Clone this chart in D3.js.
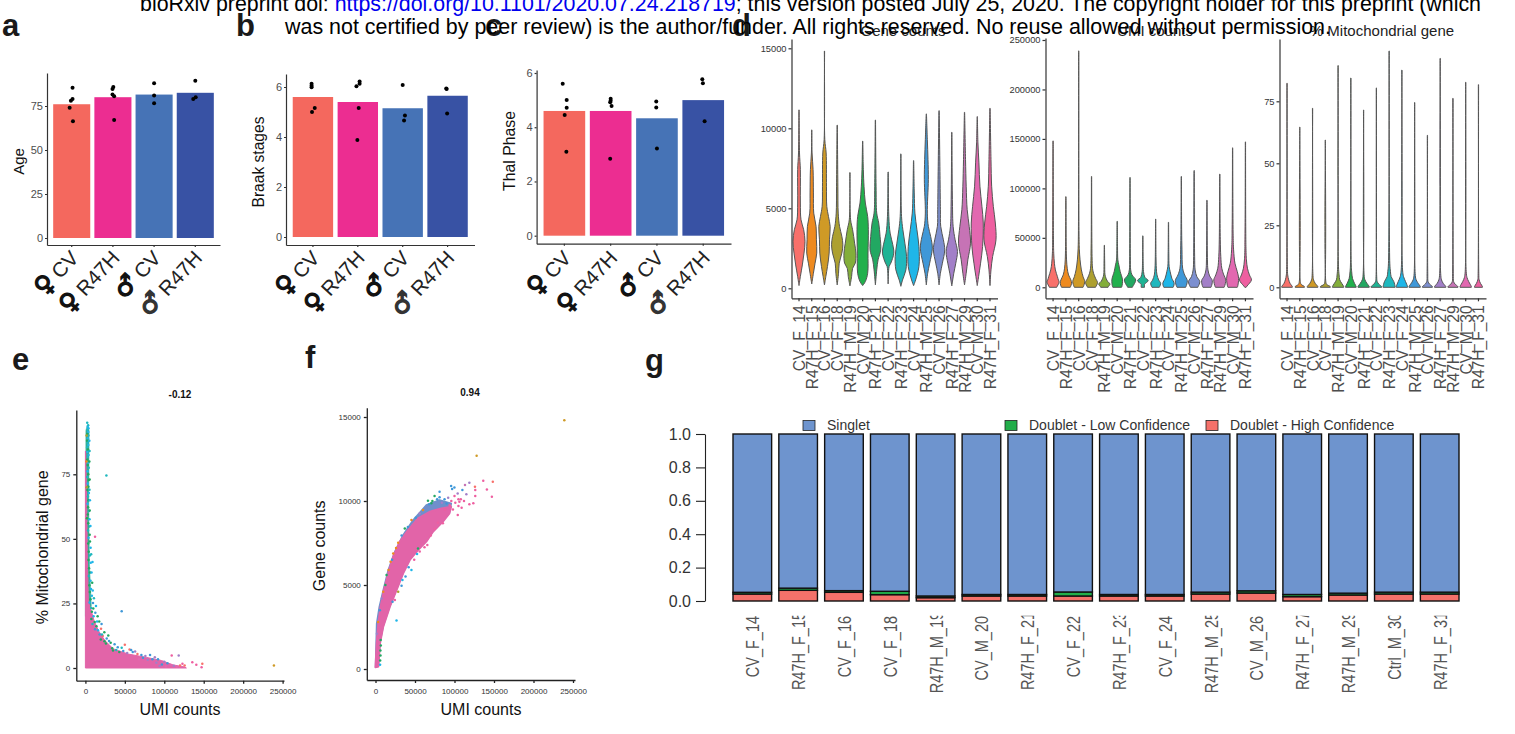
<!DOCTYPE html>
<html><head><meta charset="utf-8">
<script src="https://cdn.jsdelivr.net/npm/d3@7/dist/d3.min.js"></script>
<style>html,body{margin:0;padding:0;background:#fff;overflow:hidden}svg{display:block;font-family:"Liberation Sans",Arial,sans-serif}</style>
</head><body><div id="chart"></div>
<script>
// ---------- data ----------
const headerLine1a = "bioRxiv preprint doi: ";
const headerLink = "https://doi.org/10.1101/2020.07.24.218719";
const headerLine1b = "; this version posted July 25, 2020. The copyright holder for this preprint (which";
const headerLine2 = "was not certified by peer review) is the author/funder. All rights reserved. No reuse allowed without permission.";

const groups = ["F_CV","F_R47H","M_CV","M_R47H"];
const groupSymbols = ["\u2640","\u2640","\u2642","\u2642"];
const groupNames = ["CV","R47H","CV","R47H"];
const groupColors = ["#F4685E","#EC2D91","#4673B6","#3852A4"];

const ageMeans = [76,80,81.5,82.5];
const agePoints = [[85.4,79,78,74,66.3],[85.8,84.7,81.6,80.5,67],[87.9,81,76.5],[89.4,80,79]];
const ageJitter = [[.02,.02,-.02,-.05,.03],[.01,-.01,-.01,.03,.03],[0,0,0],[0,.01,-.05]];
const braakMeans = [5.6,5.4,5.15,5.65];
const braakPoints = [[6.13,6.05,5.99,5.16,5.0],[6.22,6.13,6.03,5.16,3.88],[6.08,4.86,4.66],[5.94,5.92,4.94]];
const braakJitter = [[-.03,-.03,-.03,.04,-.02],[.04,.04,-.03,.02,-.01],[0,.05,.03],[-.03,-.02,-.01]];
const thalMeans = [4.6,4.6,4.33,5.0];
const thalPoints = [[5.6,5.0,4.72,4.45,3.1],[5.05,4.98,4.92,4.78,2.84],[4.95,4.73,3.22],[5.77,5.62,4.22]];
const thalJitter = [[-.036,.05,.05,.007,.043],[0,0,-.01,.02,-.01],[-.015,-.015,0],[-.02,-.007,.03]];

const ageTicks = [0,25,50,75];
const braakTicks = [0,2,4,6];
const thalTicks = [0,2,4,6];

const samples = ["CV_F_14","R47H_F_15","CV_F_16","CV_F_18","R47H_M_19","CV_M_20","R47H_F_21","CV_F_22","R47H_F_23","CV_F_24","R47H_M_25","CV_M_26","R47H_F_27","R47H_M_29","CV_M_30","R47H_F_31"];
const gSamples = ["CV_F_14","R47H_F_15","CV_F_16","CV_F_18","R47H_M_19","CV_M_20","R47H_F_21","CV_F_22","R47H_F_23","CV_F_24","R47H_M_25","CV_M_26","R47H_F_27","R47H_M_29","Ctrl_M_30","R47H_F_31"];
const sampleColors = ["#F8706A","#EE8A1F","#CF9A26","#ADA030","#83AE3A","#21B04C","#22A862","#1FB394","#1FB8BE","#1FB6E8","#3F98D8","#7C8FD0","#A27FC8","#C673B5","#E268B0","#EE5FA0"];

// violin outlines: [value, relative half width]
const geneViolins = [
 [[170,0],[730,4],[1460,10],[2200,15],[2930,18],[3660,14],[4280,6],[5330,4],[7420,4],[8460,1.5],[11150,.4]],
 [[270,0],[940,5],[1570,10],[2200,15],[3030,14],[3870,13],[4700,6],[5960,5],[7420,4],[8460,1],[9900,.4]],
 [[210,0],[730,4],[1360,9],[2200,14],[3030,15],[3870,17],[4490,12],[5120,7],[6380,6],[8460,5],[9300,1],[14830,.4]],
 [[210,0],[940,4],[1570,6],[2200,14],[2720,17],[3240,14],[3870,7],[4700,3],[6380,2],[10200,.4]],
 [[150,0],[730,5],[1250,8],[1570,16],[2200,18],[2820,14],[3660,8],[4280,2],[7230,.4]],
 [[170,0],[420,8],[940,15],[2200,16],[3660,17],[4490,15],[5330,8],[6380,4],[7420,2],[9200,.4]],
 [[210,0],[1150,4],[1780,8],[2400,16],[3240,14],[4080,10],[4700,4],[6380,2],[10520,.4]],
 [[270,0],[1360,3],[1570,8],[2200,17],[2720,14],[3450,6],[4490,2],[7270,.4]],
 [[125,0],[520,5],[1150,15],[1990,17],[2820,12],[3660,6],[4490,2],[8400,.4]],
 [[170,0],[520,6],[1360,16],[2610,16],[3660,10],[4700,4],[5960,2],[7980,.4]],
 [[210,0],[940,4],[1570,10],[2510,18],[3240,13],[3870,6],[4700,3],[6790,6],[8050,5],[9300,3],[10900,.4]],
 [[210,0],[940,4],[1570,10],[2400,17],[3030,13],[3870,5],[4910,4],[6790,3],[11100,.4]],
 [[150,0],[940,6],[1570,12],[2300,17],[3030,10],[3870,4],[5330,2],[9750,.4]],
 [[210,0],[940,5],[1780,10],[2820,18],[3870,14],[4910,8],[6380,5],[8050,3],[11000,.4]],
 [[170,0],[730,4],[1570,10],[2610,16],[4080,18],[5120,14],[6380,8],[7840,5],[9090,2],[10730,.4]],
 [[170,0],[1150,3],[1990,8],[3030,18],[4080,16],[5120,10],[6380,5],[8050,3],[11250,.4]]
];
const umiViolins = [
 [[0,11],[680,12],[4060,17],[5750,18],[7440,16],[10820,13],[17580,7],[24340,4],[34480,2],[48000,1.2],[148000,.4]],
 [[0,13],[680,14],[4060,17],[7440,15],[12510,8],[19270,4],[27720,2],[41240,1],[91600,.4]],
 [[0,13],[680,14],[5750,18],[10820,13],[17580,8],[27720,4],[37860,2],[51000,1],[239000,.4]],
 [[0,12],[680,13],[4730,18],[9130,12],[14200,6],[19270,3],[31100,1.5],[112000,.4]],
 [[0,11],[680,12],[3380,17],[5750,10],[9130,5],[12510,2],[24340,1],[42500,.4]],
 [[0,13],[680,14],[7440,16],[15890,9],[22650,5],[27720,2],[41240,1],[66700,.4]],
 [[0,7],[680,8],[7440,17],[12510,6],[17580,2],[31100,1],[111000,.4]],
 [[0,5],[1350,5],[3040,5],[6760,16],[10140,6],[15890,2],[24340,1],[52000,.4]],
 [[0,11],[680,12],[4060,15],[7440,9],[12510,4],[19270,2],[31100,1],[69000,.4]],
 [[0,14],[680,15],[4060,17],[9130,10],[15890,5],[20960,2],[34480,1],[65700,.4]],
 [[0,13],[680,14],[6760,18],[12510,10],[19270,4],[37860,2],[58140,1],[112000,.4]],
 [[0,11],[680,12],[5750,17],[10820,8],[17580,3],[31100,1.5],[118000,.4]],
 [[0,12],[680,13],[6760,16],[11490,8],[17580,3],[27720,1.5],[88000,.4]],
 [[0,13],[680,14],[7440,18],[12510,12],[19270,6],[31100,3],[48000,1.5],[114500,.4]],
 [[0,14],[680,15],[9130,18],[15890,14],[24340,7],[37860,3],[54760,1.5],[141000,.4]],
 [[0,2],[1350,5],[7440,18],[12510,12],[19270,6],[27720,3],[41240,1.5],[147000,.4]]
];
const pctViolins = [
 [[0,16],[.27,16],[1.6,9],[3,5],[5,2],[8.3,1],[82.3,.4]],
 [[0,14],[.27,14],[1.2,4],[2.3,1.5],[64.6,.4]],
 [[0,16],[.27,16],[1.6,8],[3,3],[5.6,1],[72.2,.4]],
 [[0,15],[.27,15],[1.2,4],[2.3,1.5],[59.4,.4]],
 [[0,17],[.27,17],[1.6,11],[3,5],[5,3],[8.3,1.2],[89.4,.4]],
 [[0,16],[.27,16],[1.6,11],[3.6,5],[6.3,2.5],[9,1.2],[84.4,.4]],
 [[0,17],[.27,17],[1.6,10],[3,4],[5,1.5],[71.5,.4]],
 [[0,16],[.27,16],[1.35,7],[2.3,2.5],[4.3,1],[80.4,.4]],
 [[0,18],[.27,18],[2.3,14],[4.3,6],[6.3,4],[9.7,2],[95.3,.4]],
 [[0,17],[.27,17],[2.3,11],[4.3,5],[7,2],[87.6,.4]],
 [[0,17],[.27,17],[1.9,9],[3.2,4],[5.6,1.5],[74.5,.4]],
 [[0,15],[.27,15],[1.35,6],[2.3,2],[5.6,1],[61.3,.4]],
 [[0,17],[.27,17],[1.6,9],[3,4],[5.6,1.5],[92.3,.4]],
 [[0,15],[.27,15],[1.35,6],[2.3,2],[5.6,1],[76.2,.4]],
 [[0,17],[.27,17],[2.3,9],[3.9,4],[6.3,1.5],[82.7,.4]],
 [[0,12],[.27,12],[1.6,6],[3,2],[5.6,1],[81.7,.4]]
];
const geneTicks = [0,5000,10000,15000];
const umiTicks = [0,50000,100000,150000,200000,250000];
const pctTicks = [0,25,50,75];

// e: cloud outlines [umi, pct]
const mitoCloudBack = [[600,92],[2500,94],[4700,92],[4500,75],[4300,62],[4700,50],[5200,40],[6500,31],[7500,24],[3000,20],[0,20]];
const mitoCloud = [[0,84],[400,83.9],[1700,61.8],[2500,42.4],[3800,25.5],[6700,22.9],[10900,18.4],[16400,14.5],[24800,10.6],[35400,7.4],[54300,5.4],[77400,4.1],[96400,2.9],[111100,1.2],[125800,.4],[128000,0],[0,0]];
// e: visible single cells [umi, pct, sample index]
const mitoCells = [
 [2300,95,8],[3500,94,8],[2900,93.4,9],[3900,92.8,9],[2500,92.2,8],[3700,91.4,9],[2400,90.6,6],[3900,90,8],[3100,89,9],[2100,88,6],[2900,87.2,8],[3700,86.3,9],[2300,85.5,8],[3300,84.6,6],[2500,83.6,9],[4000,82.5,9],[3100,81.7,8],[2200,80.6,6],[3700,79.5,9],[2900,78.6,6],[4300,77.5,8],[2700,76.2,9],[3600,75,6],[2400,74,8],[4200,72.8,6],[3000,71.4,9],[3800,70.2,6],[2600,68.9,6],[4400,67.8,9],[3200,66.4,8],[4000,65,6],[2800,63.6,9],[3400,62.2,6],[4500,60.8,8],[3000,59.4,6],[5200,57.6,9],[3600,56,6],[4800,54.8,7],[3300,53.2,8],[5400,51.6,6],[4000,50.4,9],[3600,48.2,6],[6600,46.6,9],[4200,45,6],[5600,43.6,8],[3900,41.8,6],[6800,40.8,9],[9000,41,9],[4600,38.6,6],[5800,37,6],[4400,35.6,8],[6500,33.8,9],[5000,32,6],[7100,30.6,9],[5600,29.4,6],[8200,28,9],[6400,26.6,6],[5200,25.4,9],[9600,25.2,10],[7400,23.2,8],[8200,21.8,6],[12600,21.4,10],[10400,20,9],[7600,19,6],[11800,17.8,6],[9000,17,8],[14000,16.2,6],[12200,15,10],[16000,14.6,9],[19800,15.2,0],[18000,13,10],[24000,13.8,6],[22000,12.4,0],[27000,11.4,10],[29000,12.6,6],[24200,10.4,6],[32000,9.8,6],[37000,9.2,10],[34000,7.6,6],[41000,8,10],[46000,7.8,8],[50000,9,0],[56000,7.2,0],[60000,6.2,10],[66000,5.4,0],[71000,5,10],[76000,4.6,12],[82000,5,10],[88000,4.2,12],[92000,3.4,10],[100000,2.4,12],[104000,1.8,10],[108000,1.2,14],
 [1500,90,3],[5000,88,9],[5300,84,8],[1300,80,1],[5000,80,6],[5400,73,6],[1600,70,3],[5200,69,8],[5700,65,9],[5500,61,6],[2000,58,5],[6400,55,9],[5800,49,6],[7300,44,8],[7800,37,9],[8600,33,6],[9300,30,9],[10800,27,8],[10000,23,6],[13400,24,9],[15500,20,6],[17500,18,6],[14800,18,9],[20500,17,10],[19500,11,6],[21000,13,8],[26000,9.5,6],[30000,10.5,10],[35000,6.8,6],[39000,7,8],[43000,6.2,6],[48000,6.6,10],[53000,5.8,12],[58000,7,10],[63000,6.4,12],[68000,3.4,14],[73000,4,10],[79000,3.2,12],[85000,3.4,10],[90000,2,12],[94000,.8,12],[97000,1.4,10],[102000,.6,14],[112000,.9,12],[116000,.5,14],[120000,1,0],[123000,1.6,15],
 [26600,74.5,8],[46000,22,10],[12200,50.8,15],[239000,1,2],[135500,2.2,15],[140600,1.3,15],[147300,.3,15],[148200,1.6,0],[125800,1,0],[109400,4.8,15],[118300,4.8,12]
];
// f: cloud outlines [umi, genes]
const geneCloudBack = [[0,100],[1400,2700],[4800,3710],[9800,4700],[16100,5890],[24500,6990],[35000,7980],[47600,8870],[64300,9760],[81100,10060],[96000,9860],[93600,9300],[85300,8800],[72700,8200],[64300,7620],[53800,7120],[43400,6530],[35000,5730],[26600,4740],[18200,3750],[9800,2560],[5700,1570],[3600,160]];
const geneCloudFront = [[0,100],[1470,1530],[3560,2720],[6500,3710],[10700,4700],[16100,5690],[22400,6690],[30800,7580],[41300,8270],[53800,8970],[68500,9360],[83200,9560],[95700,9660],[93600,9270],[85300,8770],[72700,8170],[64300,7580],[53800,7080],[43400,6490],[35000,5690],[26600,4700],[18200,3710],[9800,2520],[5700,1530],[3600,140]];
const geneCells = [
 [239000,14800,2],[128000,12700,2],[136400,11210,15],[148500,11150,0],[141000,10690,15],[147300,10260,15],[125900,10850,0],[126300,10650,15],[126300,10300,15],[123800,9860,15],[118800,9800,15],[113300,10950,13],[118800,11090,12],[95700,10890,10],[99900,10810,10],[97000,10710,10],[81100,10550,10],[74800,10300,6],[81100,10220,10],[87400,10100,10],[66400,10020,6],[70600,9860,6],[104000,10450,12],[108000,10100,15],[112000,10000,15],[101000,9900,15],[92000,10200,12],[96000,10000,15],[100000,10300,15],[105000,9700,15],[60100,9460,1],[45500,8870,1],[37100,8370,6],[28700,7520,1],[22400,6880,1],[19100,6390,1],[14000,5590,6],[9800,4600,1],[53800,7180,6],[52600,6840,9],[45500,5890,9],[34100,5300,9],[28700,4600,3],[24500,4100,15],[26600,2880,9],[21600,4010,10],[106200,9960,15],[104100,9170,15],[85300,8670,15],[65600,7380,15],[6500,1730,6],[6700,1400,6],[6200,1100,6],[6300,800,6],[5900,500,6],[5800,250,9],
 [68000,9800,10],[72000,10000,6],[78000,10100,10],[84000,9900,12],[90000,9850,10],[94000,9750,15],[98000,9500,15],[88000,9500,15],[79000,8700,15],[75000,8350,15],[70000,7950,15],[62000,7250,15],[56000,7000,15],[49000,6500,15],[42000,6050,10],[38000,5500,10],[33000,4950,10],[56000,9250,12],[51000,9000,10],[41000,8450,10],[33000,7950,10],[26000,7200,1],[21000,6500,10],[16500,5900,1],[12500,5000,6],[8000,4200,12],[5500,3500,10],[3300,2800,1],[1800,2100,12],[105000,10100,15],[109000,9600,15],[115000,10400,12],[110000,10650,10]
];
const mitoUmiTicks = [0,50000,100000,150000,200000,250000];
const mitoTicks = [0,25,50,75];
const geneCountTicks = [0,5000,10000,15000];

// g: stacked fractions
const highConf = [.042,.064,.052,.038,.02,.03,.03,.03,.03,.03,.042,.048,.026,.036,.042,.042];
const lowConf = [.010,.013,.010,.020,.010,.009,.009,.024,.009,.009,.011,.013,.013,.011,.011,.011];
const singlet = highConf.map((h,i)=>+(1-h-lowConf[i]).toFixed(3));
const stackColors = {high:"#F4716A",low:"#22AD4A",singlet:"#6E94CE"};
const legendLabels = ["Singlet","Doublet - Low Confidence","Doublet - High Confidence"];
const fractionTicks = [0,.2,.4,.6,.8,1];

// ---------- drawing ----------
const W=1515,H=734;
const svg=d3.select("#chart").append("svg").attr("width",W).attr("height",H);
const defs=svg.append("defs");

function styleAxis(g,{color="#333",sw=1.2,font=11,tc="#4d4d4d",fam=null}={}){
  g.selectAll("path,line").attr("stroke",color).attr("stroke-width",sw);
  g.selectAll("text").attr("fill",tc).attr("font-size",font).attr("font-family",fam||'"Liberation Sans",Arial,sans-serif');
  return g;
}

function barPanel({x0,x1,yTop,yBottom,v0,vRef,refVal,ticks,means,points,jitter,title,titleX,titleY,titleSize,labelY}){
  const perPx=refVal/(v0-vRef);
  const y=d3.scaleLinear().domain([(v0-yBottom)*perPx,(v0-yTop)*perPx]).range([yBottom,yTop]);
  const x=d3.scaleBand().domain(groups).range([x0,x1]).paddingInner(.1).paddingOuter(.15);
  const g=svg.append("g");
  g.selectAll("rect").data(means).join("rect")
    .attr("x",(d,i)=>x(groups[i])).attr("width",x.bandwidth())
    .attr("y",d=>y(d)).attr("height",d=>y(0)-y(d)).attr("fill",(d,i)=>groupColors[i]);
  points.forEach((arr,i)=>{
    g.append("g").selectAll("circle").data(arr).join("circle")
      .attr("cx",(d,j)=>x(groups[i])+x.bandwidth()/2+jitter[i][j]*x.step())
      .attr("cy",d=>y(d)).attr("r",2).attr("fill","#000");
  });
  styleAxis(g.append("g").attr("transform",`translate(${x0},0)`).call(d3.axisLeft(y).tickValues(ticks).tickSize(2).tickPadding(2).tickSizeOuter(0).tickFormat(d3.format("d"))));
  const xa=g.append("g").attr("transform",`translate(0,${yBottom})`).call(d3.axisBottom(x).tickSize(2).tickFormat("").tickSizeOuter(0));
  styleAxis(xa);
  groups.forEach((k,i)=>{
    const cx=x(k)+x.bandwidth()/2;
    const t=g.append("text").attr("transform",`translate(${cx+8},${labelY+1}) rotate(-47)`)
      .attr("text-anchor","end").attr("font-size",20.5).attr("fill","#222");
    t.append("tspan").text(groupSymbols[i]).attr("font-family","DejaVu Sans").attr("font-weight","bold").attr("font-size",25)
      .attr("fill",i==3?"#333":"#111").attr("stroke",i==3?"#333":"#111").attr("stroke-width",1.3);
    t.append("tspan").attr("dx",5).text(groupNames[i]);
  });
  g.append("text").attr("transform",`translate(${titleX},${titleY}) rotate(-90)`)
    .attr("text-anchor","middle").attr("font-size",titleSize).attr("fill","#111").text(title);
}
barPanel({x0:47,x1:220,yTop:73,yBottom:245,v0:238,vRef:106,refVal:75,ticks:ageTicks,means:ageMeans,points:agePoints,jitter:ageJitter,title:"Age",titleX:24,titleY:161.5,titleSize:15,labelY:258});
barPanel({x0:286,x1:474.5,yTop:74,yBottom:245,v0:237,vRef:87,refVal:6,ticks:braakTicks,means:braakMeans,points:braakPoints,jitter:braakJitter,title:"Braak stages",titleX:264,titleY:162,titleSize:15.6,labelY:258});
barPanel({x0:536.6,x1:731,yTop:70,yBottom:243.7,v0:235.7,vRef:73,refVal:6,ticks:thalTicks,means:thalMeans,points:thalPoints,jitter:thalJitter,title:"Thal Phase",titleX:515,titleY:151,titleSize:15.8,labelY:258});

function violinPanel({x0,x1,yBottom,yTop,v0,vRef,refVal,ticks,data,title,titleX}){
  const perPx=refVal/(v0-vRef);
  const y=d3.scaleLinear().domain([(v0-yBottom)*perPx,(v0-yTop)*perPx]).range([yBottom,yTop]);
  const x=d3.scaleBand().domain(samples).range([x0,x1]).paddingInner(0).paddingOuter(.09);
  const w=d3.scaleLinear().domain([0,18]).range([0,6]);
  const g=svg.append("g");
  data.forEach((pts,i)=>{
    const c=x(samples[i])+x.bandwidth()/2;
    const area=d3.area().y(d=>y(d[0])).x0(d=>c-w(d[1])).x1(d=>c+w(d[1])).curve(d3.curveCatmullRom.alpha(.5));
    g.append("path").datum(pts).attr("d",area).attr("fill",sampleColors[i]).attr("stroke","#555").attr("stroke-width",1);
  });
  styleAxis(g.append("g").attr("transform",`translate(${x0},0)`).call(d3.axisLeft(y).tickValues(ticks).tickSize(3).tickPadding(2).tickSizeOuter(0).tickFormat(d3.format("d"))),{font:9.3,tc:"#333"});
  const xa=g.append("g").attr("transform",`translate(0,${yBottom})`).call(d3.axisBottom(x).tickSize(3).tickSizeOuter(0));
  styleAxis(xa,{font:15.6,tc:"#4d4d4d"});
  xa.selectAll("text").attr("text-anchor","end").attr("dy",0).attr("y",0).attr("x",0)
    .attr("transform","translate(6,7) rotate(-90) scale(1,1.08)");
  g.append("text").attr("x",titleX).attr("y",36).attr("text-anchor","middle").attr("font-size",15).attr("fill","#222").text(title);
}
violinPanel({x0:791.5,x1:997.5,yBottom:298.3,yTop:39,v0:288.3,vRef:48.3,refVal:15000,ticks:geneTicks,data:geneViolins,title:"Gene counts",titleX:903});
violinPanel({x0:1045.5,x1:1253,yBottom:298.3,yTop:38,v0:287.3,vRef:40,refVal:250000,ticks:umiTicks,data:umiViolins,title:"UMI counts",titleX:1155});
violinPanel({x0:1279.5,x1:1486,yBottom:298.3,yTop:39,v0:287.3,vRef:101.3,refVal:75,ticks:pctTicks,data:pctViolins,title:"% Mitochondrial gene",titleX:1382});

function scatterPanel({x0,x1,yTop,yBottom,xZero,xFar,yZero,yRef,refVal,yTicks,clouds,cells,corr,corrX,corrY,yTitle,yTitleX,xTitleX}){
  const px=250000/(xFar-xZero);
  const x=d3.scaleLinear().domain([(x0-xZero)*px,(x1-xZero)*px]).range([x0,x1]);
  const py=refVal/(yZero-yRef);
  const y=d3.scaleLinear().domain([(yZero-yBottom)*py,(yZero-yTop)*py]).range([yBottom,yTop]);
  const g=svg.append("g");
  const line=d3.line().x(d=>x(d[0])).y(d=>y(d[1])).curve(d3.curveLinearClosed);
  clouds.forEach(c=>g.append("path").datum(c.points).attr("d",line).attr("fill",c.color).attr("stroke",c.color).attr("stroke-width",c.sw).attr("stroke-linejoin","round"));
  g.append("g").selectAll("circle").data(cells).join("circle")
    .attr("cx",d=>x(d[0])).attr("cy",d=>y(d[1])).attr("r",1.25).attr("fill",d=>sampleColors[d[2]]);
  styleAxis(g.append("g").attr("transform",`translate(${x0},0)`).call(d3.axisLeft(y).tickValues(yTicks).tickSize(3).tickPadding(3).tickSizeOuter(0).tickFormat(d3.format("d"))),{font:8,tc:"#333",sw:1.3,color:"#222"});
  styleAxis(g.append("g").attr("transform",`translate(0,${yBottom})`).call(d3.axisBottom(x).tickValues(mitoUmiTicks).tickSize(3).tickPadding(5).tickSizeOuter(0).tickFormat(d3.format("d"))),{font:8,tc:"#333",sw:1.3,color:"#222"});
  g.append("text").attr("x",corrX).attr("y",corrY).attr("text-anchor","middle").attr("font-size",10).attr("font-weight","bold").attr("fill","#111").text(corr);
  g.append("text").attr("x",xTitleX).attr("y",715).attr("text-anchor","middle").attr("font-size",16).attr("fill","#111").text("UMI counts");
  g.append("text").attr("transform",`translate(${yTitleX},${(yTop+yBottom)/2+2}) rotate(-90)`).attr("text-anchor","middle").attr("font-size",16).attr("fill","#111").text(yTitle);
}
scatterPanel({x0:76.3,x1:284,yTop:410,yBottom:680.7,xZero:85.4,xFar:282.6,yZero:668,yRef:474.3,refVal:75,yTicks:mitoTicks,
  clouds:[{points:mitoCloudBack,color:"#35AE94",sw:.5},{points:mitoCloud,color:"#E264A8",sw:1}],cells:mitoCells,corr:"-0.12",corrX:180,corrY:398,yTitle:"% Mitochondrial gene",yTitleX:47.5,xTitleX:180});
scatterPanel({x0:366.8,x1:575,yTop:407.7,yBottom:680,xZero:375.5,xFar:573,yZero:669,yRef:417,refVal:15000,yTicks:geneCountTicks,
  clouds:[{points:geneCloudBack,color:"#6F8FCC",sw:1.5},{points:geneCloudFront,color:"#E264A8",sw:2}],cells:geneCells,corr:"0.94",corrX:470,corrY:395.5,yTitle:"Gene counts",yTitleX:325,xTitleX:481});

// g stacked bars
(function(){
  const y=d3.scaleLinear().domain([0,1]).range([601,434]);
  const x=d3.scaleBand().domain(gSamples).range([733,1459]).paddingInner(.157).paddingOuter(0);
  const g=svg.append("g");
  const stack=d3.stack().keys(["high","low","singlet"])(gSamples.map((s,i)=>({high:highConf[i],low:lowConf[i],singlet:singlet[i]})));
  stack.forEach(layer=>{
    g.append("g").selectAll("rect").data(layer).join("rect")
      .attr("x",(d,i)=>x(gSamples[i])).attr("width",x.bandwidth())
      .attr("y",d=>y(d[1])).attr("height",d=>y(d[0])-y(d[1]))
      .attr("fill",stackColors[layer.key]).attr("stroke","#111").attr("stroke-width",1.4);
  });
  const ax=g.append("g").attr("transform","translate(705,0)").call(d3.axisLeft(y).tickValues(fractionTicks).tickSize(9).tickPadding(5).tickSizeOuter(0).tickFormat(d3.format(".1f")));
  styleAxis(ax,{color:"#222",sw:1.1,font:16,tc:"#333"});
  defs.append("clipPath").attr("id","gclip").append("rect").attr("x",700).attr("y",615.8).attr("width",800).attr("height",100);
  const lab=g.append("g").attr("clip-path","url(#gclip)");
  lab.selectAll("text").data(gSamples).join("text")
    .attr("transform",d=>{
      const top=d.startsWith("R47H")?612:d.startsWith("Ctrl")?613:616;
      return `translate(${x(d)+x.bandwidth()/2+7},${top}) rotate(-90) scale(1,1.3)`;})
    .attr("text-anchor","end").attr("font-size",14.5).attr("fill","#555").text(d=>d);
  const legend=[{x:803,c:stackColors.singlet,t:legendLabels[0]},{x:1005,c:stackColors.low,t:legendLabels[1]},{x:1206,c:stackColors.high,t:legendLabels[2]}];
  legend.forEach(l=>{
    g.append("rect").attr("x",l.x).attr("y",420.5).attr("width",12).attr("height",10).attr("fill",l.c).attr("stroke","#222").attr("stroke-width",.8);
    g.append("text").attr("x",l.x+24).attr("y",430).attr("font-size",14).attr("fill","#333").text(l.t);
  });
})();

// panel letters
const panelLetters=[["a",2,36],["b",236,36],["c",485,36],["d",732,36],["e",12,370],["f",305,368],["g",645,371]];
svg.append("g").selectAll("text").data(panelLetters).join("text")
  .attr("x",d=>d[1]).attr("y",d=>d[2]).attr("font-size",31).attr("font-weight","bold").attr("fill","#1a1a1a").text(d=>d[0]);

// header
const h1=svg.append("text").attr("x",140).attr("y",10.5).attr("font-size",22).attr("fill","#000").attr("textLength",1341).attr("lengthAdjust","spacingAndGlyphs");
h1.append("tspan").text(headerLine1a);
h1.append("tspan").attr("fill","#0000ee").text(headerLink);
h1.append("tspan").text(headerLine1b);
svg.append("text").attr("x",285).attr("y",33.5).attr("font-size",22).attr("fill","#000").attr("textLength",1046).attr("lengthAdjust","spacingAndGlyphs").text(headerLine2);
</script></body></html>
